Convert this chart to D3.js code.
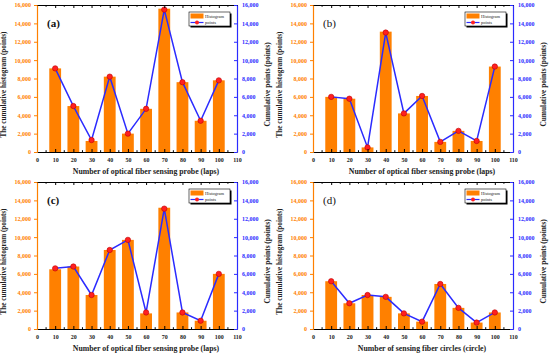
<!DOCTYPE html>
<html>
<head>
<meta charset="utf-8">
<script src="https://cdn.jsdelivr.net/npm/d3@7"></script>
<style>
  body { margin: 0; background: #fff; }
  svg text { font-family: "Liberation Serif", "Times New Roman", serif; font-weight: bold; }
</style>
</head>
<body>
<div id="chart"></div>
<script>
// laps / circles on the x axis
const probes = [10, 20, 30, 40, 50, 60, 70, 80, 90, 100];

// (a)
const histA = [9100, 5000, 1200, 8200, 2000, 4700, 15600, 7600, 3400, 7800];
const pointsA = [9100, 5000, 1300, 8200, 2000, 4700, 15500, 7600, 3400, 7800];
// (b)
const histB = [6000, 5800, 500, 13100, 4200, 6100, 1100, 2300, 1200, 9300];
const pointsB = [6000, 5800, 500, 13000, 4200, 6100, 1100, 2300, 1200, 9300];
// (c)
const histC = [6500, 6800, 3700, 8600, 9700, 1700, 13200, 1800, 900, 6000];
const pointsC = [6600, 6800, 3700, 8600, 9700, 1800, 13100, 1800, 900, 6000];
// (d)
const histD = [5200, 2800, 3700, 3500, 1700, 800, 4900, 2300, 700, 1800];
const pointsD = [5200, 2800, 3700, 3500, 1700, 800, 4900, 2300, 700, 1800];

const xTicks = [0, 10, 20, 30, 40, 50, 60, 70, 80, 90, 100, 110];
const yTicks = [0, 2000, 4000, 6000, 8000, 10000, 12000, 14000, 16000];

const panels = [
  { tag: "(a)", bold: true,  hist: histA, pts: pointsA, left: 37,  top: 5,   xlabel: "Number of optical fiber sensing probe (laps)" },
  { tag: "(b)", bold: false, hist: histB, pts: pointsB, left: 313, top: 5,   xlabel: "Number of optical fiber sensing probe (laps)" },
  { tag: "(c)", bold: true,  hist: histC, pts: pointsC, left: 37,  top: 182, xlabel: "Number of optical fiber sensing probe (laps)" },
  { tag: "(d)", bold: false, hist: histD, pts: pointsD, left: 313, top: 182, xlabel: "Number of sensing fiber circles (circle)" }
];

const W = 550, H = 354;
const pw = 200, ph = 147;
const orange = "#ff8000", blue = "#2b2bff", red = "#ff2020";
const fmt = d3.format(",");

const svg = d3.select("#chart").append("svg")
  .attr("width", W).attr("height", H);

panels.forEach(function (p) {
  const g = svg.append("g").attr("transform", "translate(" + p.left + "," + p.top + ")");

  const x = d3.scaleLinear().domain([0, 110]).range([0, pw]);
  const y = d3.scaleLinear().domain([0, 16000]).range([ph, 0]);
  const bw = x(6.5) - x(0);

  // bars
  g.selectAll(".bar")
    .data(probes)
    .enter().append("rect")
    .attr("class", "bar")
    .attr("x", function (d) { return x(d) - bw / 2; })
    .attr("y", function (d, i) { return y(p.hist[i]); })
    .attr("width", bw)
    .attr("height", function (d, i) { return ph - y(p.hist[i]); })
    .attr("fill", orange);

  // line
  const line = d3.line()
    .x(function (d) { return x(d); })
    .y(function (d, i) { return y(p.pts[i]); });
  g.append("path")
    .datum(probes)
    .attr("d", line)
    .attr("fill", "none")
    .attr("stroke", blue)
    .attr("stroke-width", 1.5);

  g.selectAll(".dot")
    .data(probes)
    .enter().append("circle")
    .attr("cx", function (d) { return x(d); })
    .attr("cy", function (d, i) { return y(p.pts[i]); })
    .attr("r", 2.7)
    .attr("fill", red)
    .attr("stroke", "#c00000")
    .attr("stroke-width", 0.6);

  // bottom axis (ticks inward)
  const bottom = g.append("g")
    .attr("transform", "translate(0," + ph + ")")
    .call(d3.axisBottom(x).tickValues(xTicks).tickSize(-3).tickPadding(6).tickSizeOuter(0).tickFormat(d3.format("d")));
  bottom.select(".domain").attr("stroke", "#000").attr("stroke-width", 1.2);
  bottom.selectAll("text").style("font-size", "6px").attr("fill", "#222");
  bottom.selectAll(".minor").data(d3.range(5, 110, 10)).enter().append("line")
    .attr("class", "minor").attr("x1", function (d) { return x(d); }).attr("x2", function (d) { return x(d); })
    .attr("y1", 0).attr("y2", -1.8).attr("stroke", "#000");

  // top axis (no labels)
  const topAx = g.append("g")
    .call(d3.axisTop(x).tickValues(xTicks).tickSize(-3).tickSizeOuter(0).tickFormat(""));
  topAx.select(".domain").attr("stroke", "#000").attr("stroke-width", 1.2);
  topAx.selectAll(".minor").data(d3.range(5, 110, 10)).enter().append("line")
    .attr("class", "minor").attr("x1", function (d) { return x(d); }).attr("x2", function (d) { return x(d); })
    .attr("y1", 0).attr("y2", 1.8).attr("stroke", "#000");

  // left axis (orange)
  const leftAx = g.append("g")
    .call(d3.axisLeft(y).tickValues(yTicks).tickSize(3).tickPadding(3).tickSizeOuter(0).tickFormat(fmt));
  leftAx.select(".domain").attr("stroke", orange).attr("stroke-width", 1.2);
  leftAx.selectAll(".tick line").attr("stroke", orange);
  leftAx.selectAll("text").style("font-size", "6px").attr("fill", orange);

  // right axis (blue)
  const rightAx = g.append("g")
    .attr("transform", "translate(" + pw + ",0)")
    .call(d3.axisRight(y).tickValues(yTicks).tickSize(-3).tickPadding(5).tickSizeOuter(0).tickFormat(fmt));
  rightAx.select(".domain").attr("stroke", blue).attr("stroke-width", 1.2);
  rightAx.selectAll(".tick line").attr("stroke", blue);
  rightAx.selectAll("text").style("font-size", "6px").attr("fill", blue);

  // axis titles
  g.append("text")
    .attr("transform", "translate(-31," + (ph / 2 + 6) + ") rotate(-90)")
    .attr("text-anchor", "middle")
    .style("font-size", "7.2px")
    .attr("fill", "#222")
    .text("The cumulative histogram (points)");

  g.append("text")
    .attr("transform", "translate(" + (pw + 33) + "," + (ph / 2 + 6) + ") rotate(-90)")
    .attr("text-anchor", "middle")
    .style("font-size", "7.4px")
    .attr("fill", "#222")
    .text("Cumulative points (points)");

  g.append("text")
    .attr("x", pw / 2 + 9)
    .attr("y", ph + 22)
    .attr("text-anchor", "middle")
    .style("font-size", "7.8px")
    .attr("fill", "#222")
    .text(p.xlabel);

  // panel tag
  g.append("text")
    .attr("x", 10)
    .attr("y", 22)
    .style("font-size", "11px")
    .style("font-weight", p.bold ? "bold" : "normal")
    .attr("fill", "#111")
    .text(p.tag);

  // legend
  const lg = g.append("g").attr("transform", "translate(152,7)");
  lg.append("rect").attr("x", 1.5).attr("y", 1.5).attr("width", 41).attr("height", 14).attr("fill", "#000");
  lg.append("rect").attr("x", 0).attr("y", 0).attr("width", 41).attr("height", 14)
    .attr("fill", "#fff").attr("stroke", "#000").attr("stroke-width", 0.6);
  lg.append("rect").attr("x", 1.5).attr("y", 1.5).attr("width", 13).attr("height", 5).attr("fill", orange);
  lg.append("text").attr("x", 16).attr("y", 6).style("font-size", "4.5px").style("font-weight", "normal")
    .attr("fill", "#222").text("Histogram");
  lg.append("line").attr("x1", 1.5).attr("x2", 14.5).attr("y1", 10.5).attr("y2", 10.5)
    .attr("stroke", blue).attr("stroke-width", 1.2);
  lg.append("circle").attr("cx", 8).attr("cy", 10.5).attr("r", 2).attr("fill", red);
  lg.append("text").attr("x", 16).attr("y", 12).style("font-size", "4.5px").style("font-weight", "normal")
    .attr("fill", "#222").text("points");
});
</script>
</body>
</html>
